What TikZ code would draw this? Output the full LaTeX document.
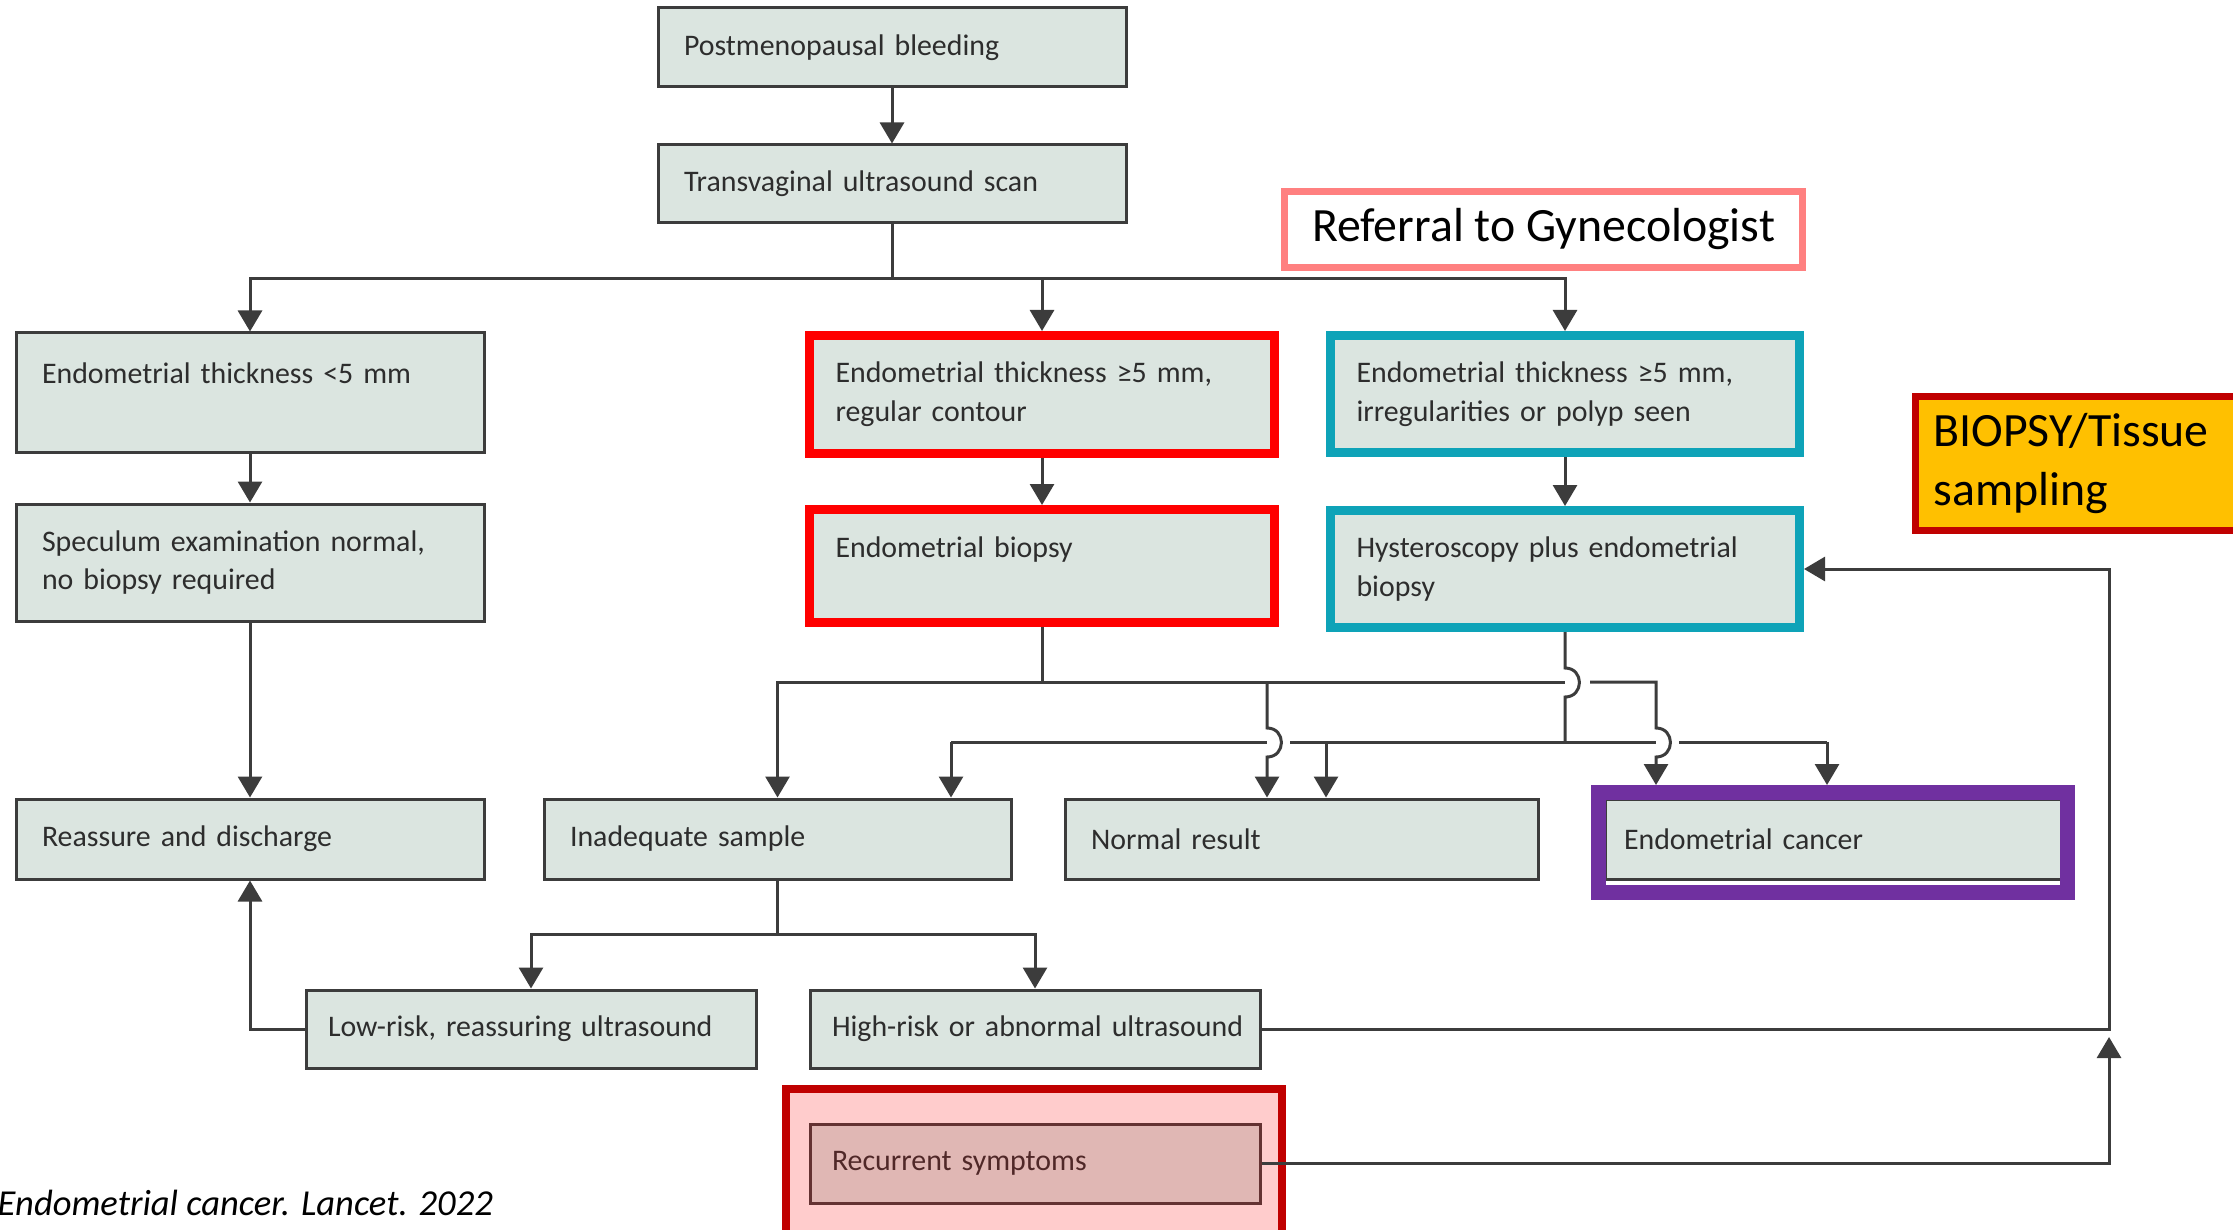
\documentclass[tikz,border=0pt]{standalone}
\usepackage{fontspec}
\setmainfont{Carlito}
\usetikzlibrary{arrows.meta}
\definecolor{boxfill}{RGB}{219,229,224}
\definecolor{boxline}{RGB}{60,60,60}
\definecolor{boxtext}{RGB}{45,45,45}
\definecolor{framered}{RGB}{255,0,0}
\definecolor{framecyan}{RGB}{14,163,184}
\definecolor{framepurple}{RGB}{112,48,160}
\definecolor{refline}{RGB}{255,128,128}
\definecolor{tagfill}{RGB}{255,192,0}
\definecolor{darkred}{RGB}{192,0,0}
\definecolor{recfill}{RGB}{255,204,204}
\definecolor{recinner}{RGB}{224,183,180}
\definecolor{recline}{RGB}{100,50,50}

\begin{document}
\begin{tikzpicture}[x=0.1mm,y=-0.1mm,
  box/.style={draw=boxline,fill=boxfill,line width=0.3mm,inner xsep=2.6mm,inner ysep=0pt,
    align=left,text=boxtext,font=\fontsize{8.5}{11}\selectfont,text width=#1},
  redbox/.style={draw=framered,line width=0.9mm},
  cyanbox/.style={draw=framecyan,line width=0.9mm},
  purplebox/.style={draw=framepurple,line width=1.5mm,inner sep=0pt},
  recframe/.style={draw=darkred,fill=recfill,line width=0.8mm,inner sep=0pt},
  recbox/.style={draw=recline,fill=recinner,text=recline!80!black},
  refbox/.style={draw=refline,fill=white,line width=0.7mm,minimum width=51.8mm,
    minimum height=7.6mm,font=\fontsize{13.6}{16}\selectfont},
  tagbox/.style={draw=darkred,fill=tagfill,line width=0.7mm,text width=29.6mm,inner xsep=1.85mm,
    minimum height=13.4mm,align=left,font=\fontsize{13.6}{17}\selectfont},
  line/.style={draw=boxline,line width=0.3mm},
  arr/.style={line,-{Triangle[length=2.1mm,width=2.4mm]}},
  hop/.style={out=0,in=0,looseness=1.7}]

\useasboundingbox (0,0) rectangle (2233,1229);
\fill[white] (0,0) rectangle (2233,1229);
\clip (0,0) rectangle (2233,1229);

% boxes
\node[box=41.6mm,minimum height=7.9mm] (pmb) at (892,47.5) {Postmenopausal bleeding};
\node[box=41.6mm,minimum height=7.8mm] (tvs) at (892,184) {Transvaginal ultrasound scan};
\node[refbox] (ref) at (1543.5,229.5) {Referral to Gynecologist};

\node[box=41.6mm,minimum height=11.9mm] (thin) at (250,392.5) {Endometrial thickness <5 mm\\~};
\node[box=41.3mm,minimum height=11.8mm,redbox] (reg) at (1042,394.5) {Endometrial thickness ≥5 mm,\\regular contour};
\node[box=41.7mm,minimum height=11.7mm,cyanbox] (irr) at (1565,394) {Endometrial thickness ≥5 mm,\\irregularities or polyp seen};
\node[tagbox,anchor=west] (tag) at (1911.5,463.5) {BIOPSY/Tissue\\sampling};

\node[box=41.6mm,minimum height=11.7mm] (spec) at (250,562.5) {Speculum examination normal,\\no biopsy required};
\node[box=41.3mm,minimum height=11.3mm,redbox] (ebx) at (1042,566) {Endometrial biopsy\\~};
\node[box=41.7mm,minimum height=11.7mm,cyanbox] (hys) at (1565,569) {Hysteroscopy plus endometrial\\biopsy};

\node[box=41.6mm,minimum height=8mm] (rad) at (250,839) {Reassure and discharge};
\node[box=41.5mm,minimum height=8mm] (inad) at (777.5,839) {Inadequate sample};
\node[box=42.1mm,minimum height=8mm] (nres) at (1301.5,839) {Normal result};
\node[box=41.8mm,inner xsep=1.9mm,minimum height=8mm] (ecan) at (1833,839) {Endometrial cancer};
\node[purplebox,minimum width=46.9mm,minimum height=10mm] (ecf) at (1833,842.5) {};

\node[box=40.6mm,inner xsep=2.2mm,minimum height=7.8mm] (low) at (531,1029) {\mbox{Low-risk, reassuring ultrasound}};
\node[box=40.6mm,inner xsep=2.2mm,minimum height=7.8mm] (high) at (1035,1029) {\mbox{High-risk or abnormal ultrasound}};
\node[recframe,minimum width=49.6mm,minimum height=15.1mm] (rsf) at (1034,1164.5) {};
\node[box=40.6mm,inner xsep=2.2mm,minimum height=7.9mm,recbox] (rec) at (1035,1163.5) {Recurrent symptoms};

\node[anchor=base west,inner sep=0pt,font=\fontsize{10.4}{12}\selectfont\itshape] (cite) at (-3,1215) {Endometrial cancer. Lancet. 2022};

% top part
\draw[arr] (pmb) -- (tvs);
\draw[line] (tvs.south) -- (892,279) coordinate (j1);
\draw[arr] (j1) -| (thin.north);
\draw[arr] (j1) -| (reg.north);
\draw[arr] (j1) -| (irr.north);
\draw[arr] (thin) -- (spec);
\draw[arr] (spec) -- (rad);
\draw[arr] (reg) -- (ebx);
\draw[arr] (irr) -- (hys);

% biopsy results, upper line
\draw[line] (ebx.south) -- (1042,682) coordinate (j2);
\draw[arr] (j2) -| (inad.north);
\draw[line] (j2) -- (1565,682);
\draw[arr] (1590,682) -- (1656,682) -- (1656,728) to[hop] (1656,757) -- (1656,0 |- ecf.north);
\draw[arr] (1267,682) -- (1267,728) to[hop] (1267,757) -- (1267,0 |- nres.north);

% hysteroscopy results, lower line
\draw[line] (hys.south) -- (1565,668) to[hop] (1565,697) -- (1565,742) coordinate (j4);
\draw[line] (951,742) -- (1267,742) (1290,742) -- (1656,742) (1679,742) -- (1827,742);
\draw[arr] (951,742) -- (951,0 |- inad.north);
\draw[arr] (1326,742) -- (1326,0 |- nres.north);
\draw[arr] (1827,742) -- (1827,0 |- ecf.north);

% inadequate sample
\draw[line] (inad.south) -- (777.5,934) coordinate (j3);
\draw[arr] (j3) -| (low.north);
\draw[arr] (j3) -| (high.north);
\draw[arr] (low.west) -| (rad.south);
\draw[arr] (high.east) -- (2109,0 |- high.east) |- (hys.east);
\coordinate (rtip) at (2109,1037);
\draw[arr] (rec.east) -- (2109,0 |- rec.east) -- (rtip);

\end{tikzpicture}
\end{document}
